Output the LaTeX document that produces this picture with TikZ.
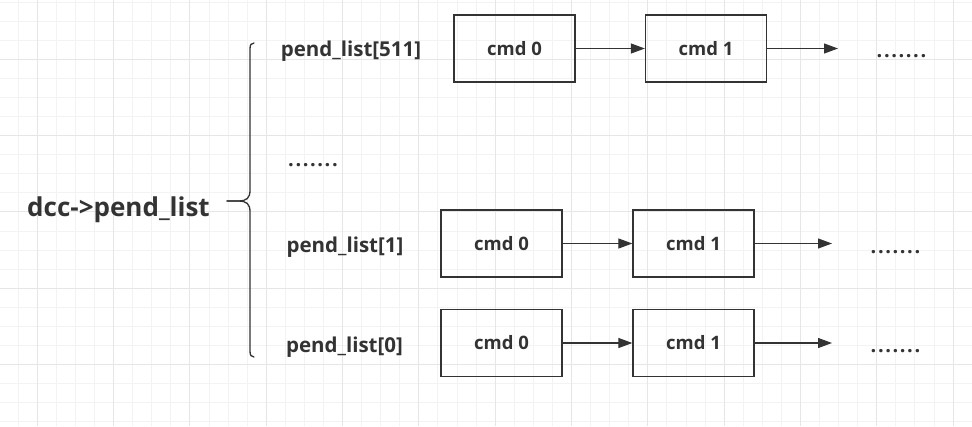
\documentclass[tikz,border=0pt]{standalone}
\usepackage{fontspec}
\setmainfont{Open Sans}
\usetikzlibrary{arrows.meta}
\definecolor{ink}{HTML}{333333}
\definecolor{gridminor}{HTML}{F3F3F3}
\definecolor{gridmajor}{HTML}{E6E6E6}
\begin{document}
\begin{tikzpicture}[x=1pt,y=-1pt,
  cmdbox/.style={draw=ink,line width=1.3pt,minimum width=121pt,minimum height=67pt,inner sep=0pt,text=ink,font=\bfseries\fontsize{18.5}{21}\selectfont},
  listlabel/.style={anchor=base,inner sep=0pt,text=ink,font=\bfseries\fontsize{20.5}{24}\selectfont},
  more/.style={anchor=base,inner sep=0pt,text=ink,font=\bfseries\fontsize{20}{24}\selectfont\addfontfeature{LetterSpace=8}},
  link/.style={draw=ink,line width=1.2pt,-{Triangle[length=14pt,width=10pt]}},
  bracket/.style={draw=ink,line width=1.3pt,line cap=round}]
\useasboundingbox[fill=white] (0,0) rectangle (972,426);
\foreach \i in {-1,...,49} \draw[gridminor,line width=1pt] (37.3+19.08*\i,0) -- (37.3+19.08*\i,426);
\foreach \j in {-3,...,19} \draw[gridminor,line width=1pt] (0,59.3+19.08*\j) -- (972,59.3+19.08*\j);
\foreach \i in {0,...,12} \draw[gridmajor,line width=1pt] (37.3+76.32*\i,0) -- (37.3+76.32*\i,426);
\foreach \j in {0,...,4} \draw[gridmajor,line width=1pt] (0,59.3+76.32*\j) -- (972,59.3+76.32*\j);

\node[anchor=base,inner sep=0pt,text=ink,font=\bfseries\fontsize{26}{30}\selectfont] (dcc) at (118.5,216) {dcc->pend\_list};

\coordinate (bracetop) at (254,43);
\coordinate (bracetip) at (227,201);
\coordinate (bracebot) at (254,357);
\draw[bracket] (bracetop) .. controls (251,43) and (250,45) .. (250,49) -- (250,190)
  .. controls (250,198) and (247,201) .. (238,201) -- (bracetip);
\draw[bracket] (bracetip) -- (238,201) .. controls (247,201) and (250,204) .. (250,212)
  -- (250,351) .. controls (250,355) and (251,357) .. (bracebot);

\node[listlabel] (p511) at (351,56) {pend\_list[511]};
\node[more] (pmid) at (313,166) {.......};
\node[listlabel] (p1) at (345,252.5) {pend\_list[1]};
\node[listlabel] (p0) at (344.5,352) {pend\_list[0]};

\node[cmdbox] (c511a) at (514.5,48.5) {cmd 0};
\node[cmdbox] (c511b) at (706,48.5) {cmd 1};
\coordinate (e511) at (838,48.5);
\node[more] (d511) at (901.5,57) {.......};
\draw[link] (c511a) -- (c511b);
\draw[link] (c511b) -- (e511);

\node[cmdbox] (c1a) at (501.5,243.5) {cmd 0};
\node[cmdbox] (c1b) at (693.5,243.5) {cmd 1};
\coordinate (e1) at (832,243.5);
\node[more] (d1) at (895.5,253) {.......};
\draw[link] (c1a) -- (c1b);
\draw[link] (c1b) -- (e1);

\node[cmdbox] (c0a) at (501.5,343) {cmd 0};
\node[cmdbox] (c0b) at (693.5,343) {cmd 1};
\coordinate (e0) at (832,343);
\node[more] (d0) at (895.5,352) {.......};
\draw[link] (c0a) -- (c0b);
\draw[link] (c0b) -- (e0);
\end{tikzpicture}
\end{document}
